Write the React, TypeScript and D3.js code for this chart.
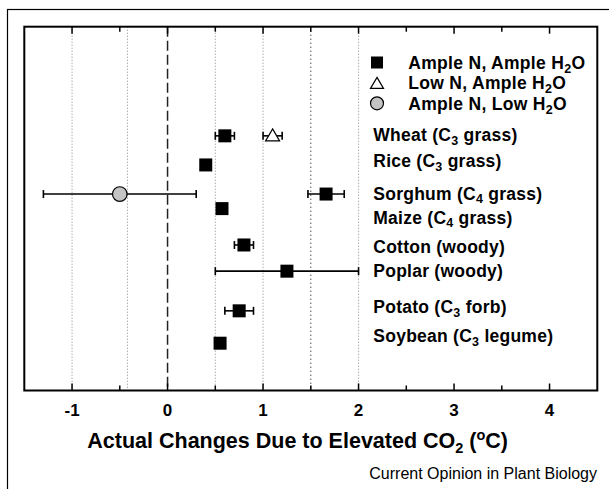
import React from "react";
import * as d3 from "d3";

const width = 609;
const height = 489;
const plot = { left: 24.3, right: 597.3, top: 26.7, bottom: 390.5 };
const font = "'Liberation Sans', Arial, Helvetica, sans-serif";

// crop labels: [text before subscript, subscript, text after]
const cropLabels = [
  ["Wheat (C", "3", " grass)"],
  ["Rice (C", "3", " grass)"],
  ["Sorghum (C", "4", " grass)"],
  ["Maize (C", "4", " grass)"],
  ["Cotton (woody)", "", ""],
  ["Poplar (woody)", "", ""],
  ["Potato (C", "3", " forb)"],
  ["Soybean (C", "3", " legume)"],
];
// vertical position of each crop row (0 = top of frame, 100 = bottom)
const rowPos = [30, 38, 46, 50, 60, 67.2, 78.1, 87];
const labelPos = [29.8, 36.9, 45.8, 52.4, 60.6, 67.2, 77, 85];

// Ample N, Ample H2O (all crops)
const ampleMean = [0.6, 0.4, 1.66, 0.57, 0.8, 1.25, 0.75, 0.55];
const ampleErr = [0.1, 0, 0.19, 0.05, 0.1, 0.75, 0.15, 0];
// Low N, Ample H2O (wheat only)
const lowNCrop = [0];
const lowNMean = [1.1];
const lowNErr = [0.1];
// Ample N, Low H2O (sorghum only)
const lowWCrop = [2];
const lowWMean = [-0.5];
const lowWErr = [0.8];

const xTicks = [-1, 0, 1, 2, 3, 4];
const minorTicks = [-0.5, 0.5, 1.5, 2.5, 3.5];
const greyGrid = [-1, -0.42, 0.5, 1, 2];
const blackGrid = [1.5];

const x = d3.scaleLinear().domain([-1.5, 4.5]).range([plot.left, plot.right]);
const y = d3.scaleLinear().domain([0, 100]).range([plot.top, plot.bottom]);

const ErrBar = ({ cx, cy, e }) =>
  e > 0 ? (
    <g stroke="#000" strokeWidth={1.6}>
      <line x1={x(cx - e)} x2={x(cx + e)} y1={cy} y2={cy} />
      <line x1={x(cx - e)} x2={x(cx - e)} y1={cy - 4} y2={cy + 4} />
      <line x1={x(cx + e)} x2={x(cx + e)} y1={cy - 4} y2={cy + 4} />
    </g>
  ) : null;

const Square = ({ cx, cy, s = 13 }) => (
  <rect x={cx - s / 2} y={cy - s / 2} width={s} height={s} fill="#000" />
);
const Triangle = ({ cx, cy, w = 14, h = 12 }) => (
  <path
    d={`M${cx},${cy - h / 2}L${cx + w / 2},${cy + h / 2}L${cx - w / 2},${cy + h / 2}Z`}
    fill="#fff"
    stroke="#000"
    strokeWidth={1.2}
  />
);
const Circle = ({ cx, cy, r = 7.3 }) => (
  <circle cx={cx} cy={cy} r={r} fill="#c4c4c4" stroke="#000" strokeWidth={1.2} />
);

export default function App() {
  const legend = [
    { mark: "square", parts: ["Ample N, Ample H", "2", "O"] },
    { mark: "triangle", parts: ["Low N, Ample H", "2", "O"] },
    { mark: "circle", parts: ["Ample N, Low H", "2", "O"] },
  ];

  return (
    <svg
      width={width}
      height={height}
      style={{ position: "absolute", left: 0, top: 0, background: "#fff" }}
      fontFamily={font}
    >
      {/* outer frame */}
      <rect x={7.5} y={9.5} width={700} height={600} fill="none" stroke="#000" strokeWidth={1.2} />

      {/* grid lines */}
      {greyGrid.map((v, i) => (
        <line key={"g" + i} x1={x(v)} x2={x(v)} y1={plot.top} y2={plot.bottom}
          stroke="#888" strokeWidth={1} strokeDasharray="1,2" />
      ))}
      {blackGrid.map((v, i) => (
        <line key={"b" + i} x1={x(v)} x2={x(v)} y1={plot.top} y2={plot.bottom}
          stroke="#000" strokeWidth={1} strokeDasharray="1,3" />
      ))}
      <line x1={x(0)} x2={x(0)} y1={plot.top} y2={plot.bottom}
        stroke="#222" strokeWidth={1.5} strokeDasharray="10,4" />

      {/* ticks, top and bottom, pointing in */}
      {xTicks.map((v) => (
        <g key={"t" + v} stroke="#000" strokeWidth={1.5}>
          <line x1={x(v)} x2={x(v)} y1={plot.top} y2={plot.top + 7} />
          <line x1={x(v)} x2={x(v)} y1={plot.bottom} y2={plot.bottom - 7} />
        </g>
      ))}
      {minorTicks.map((v) => (
        <g key={"m" + v} stroke="#000" strokeWidth={1.5}>
          <line x1={x(v)} x2={x(v)} y1={plot.top} y2={plot.top + 5} />
          <line x1={x(v)} x2={x(v)} y1={plot.bottom} y2={plot.bottom - 5} />
        </g>
      ))}

      {/* error bars then markers */}
      {ampleMean.map((m, i) => (
        <g key={"a" + i}>
          <ErrBar cx={m} cy={y(rowPos[i])} e={ampleErr[i]} />
          <Square cx={x(m)} cy={y(rowPos[i])} />
        </g>
      ))}
      {lowNMean.map((m, i) => (
        <g key={"n" + i}>
          <ErrBar cx={m} cy={y(rowPos[lowNCrop[i]])} e={lowNErr[i]} />
          <Triangle cx={x(m)} cy={y(rowPos[lowNCrop[i]]) - 1} />
        </g>
      ))}
      {lowWMean.map((m, i) => (
        <g key={"w" + i}>
          <ErrBar cx={m} cy={y(rowPos[lowWCrop[i]])} e={lowWErr[i]} />
          <Circle cx={x(m)} cy={y(rowPos[lowWCrop[i]])} />
        </g>
      ))}

      {/* crop labels */}
      {cropLabels.map((p, i) => (
        <text key={"c" + i} x={373.3} y={y(labelPos[i])} dy="0.36em"
          fontSize={17.5} fontWeight="bold" letterSpacing={0.25}>
          {p[0]}
          {p[1] && (
            <>
              <tspan fontSize={12.5} dy={3.5}>{p[1]}</tspan>
              <tspan dy={-3.5}>{p[2]}</tspan>
            </>
          )}
        </text>
      ))}

      {/* legend */}
      {legend.map((d, i) => {
        const cy = 62.5 + i * 20.4;
        return (
          <g key={"l" + i}>
            {d.mark === "square" && <Square cx={377} cy={cy} s={12} />}
            {d.mark === "triangle" && <Triangle cx={377} cy={cy} w={13} h={11} />}
            {d.mark === "circle" && <Circle cx={377} cy={cy} r={6.5} />}
            <text x={408.3} y={cy} dy="0.36em" fontSize={17.5} fontWeight="bold" letterSpacing={0.3}>
              {d.parts[0]}
              <tspan fontSize={12.5} dy={4}>{d.parts[1]}</tspan>
              <tspan dy={-4}>{d.parts[2]}</tspan>
            </text>
          </g>
        );
      })}

      {/* plot frame */}
      <rect x={plot.left} y={plot.top} width={plot.right - plot.left}
        height={plot.bottom - plot.top} fill="none" stroke="#000" strokeWidth={2} />

      {/* x tick labels */}
      {xTicks.map((v) => (
        <text key={"l" + v} x={x(v)} y={415.7} textAnchor="middle" fontSize={17} fontWeight="bold">
          {v}
        </text>
      ))}

      {/* axis title */}
      <text x={87.3} y={448} fontSize={21.5} fontWeight="bold">
        Actual Changes Due to Elevated CO
        <tspan fontSize={14.5} dy={5}>2</tspan>
        <tspan dy={-5}> (</tspan>
        <tspan fontSize={14.5} dy={-8}>o</tspan>
        <tspan dy={8}>C)</tspan>
      </text>

      <text x={597} y={479} textAnchor="end" fontSize={16}>
        Current Opinion in Plant Biology
      </text>
    </svg>
  );
}
